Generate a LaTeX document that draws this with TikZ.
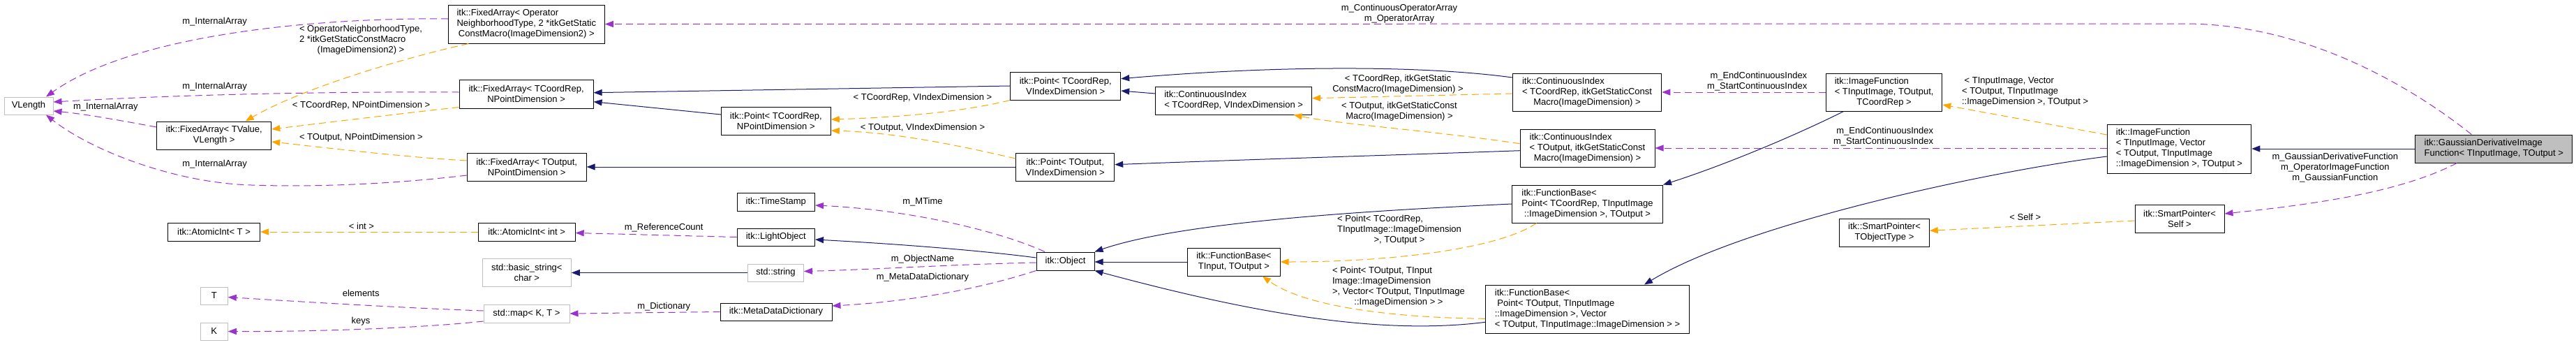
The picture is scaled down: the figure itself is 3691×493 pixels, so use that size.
\documentclass[tikz,border=0pt]{standalone}
\usepackage{fontspec}
\setmainfont{Liberation Sans}
\usetikzlibrary{arrows.meta}
\definecolor{usecol}{HTML}{9A32CD}
\definecolor{inhcol}{HTML}{191970}
\definecolor{tplcol}{HTML}{FFA500}
\definecolor{graybd}{HTML}{BFBFBF}
\newcommand{\cl}[1]{\multicolumn{1}{@{}c@{}}{#1}}
\newcommand{\lt}[1]{\begin{tabular}{@{}l@{}}#1\end{tabular}}
\begin{document}
\begin{tikzpicture}[x=1pt,y=-1pt,font=\fontsize{13}{15}\selectfont,
  cls/.style={draw=black,line width=1pt,inner sep=0pt,align=center},
  ucls/.style={cls,draw=graybd},
  lbl/.style={inner sep=0pt,align=center},
  tipA/.style={-{Triangle[length=12pt,width=9pt]}},
  usearrow/.style={draw=usecol,line width=1pt,dash pattern=on 10pt off 6pt,tipA},
  inharrow/.style={draw=inhcol,line width=1pt,tipA},
  tplarrow/.style={draw=tplcol,line width=1pt,dash pattern=on 10pt off 6pt,tipA}]
\useasboundingbox (0,0) rectangle (3691,493);

% ---- nodes ----
\node[ucls,minimum width=70pt,minimum height=25pt] (VL) at (41,151.5) {VLength};
\node[cls,minimum width=164pt,minimum height=40pt] (FATV) at (306.7,194) {itk::FixedArray< TValue,\\VLength >};
\node[cls,minimum width=132pt,minimum height=26pt] (AIT) at (306.5,332) {itk::AtomicInt< T >};
\node[ucls,minimum width=39pt,minimum height=25pt] (TT) at (306.8,423.5) {T};
\node[ucls,minimum width=39pt,minimum height=25pt] (KK) at (306.8,474.5) {K};

\node[cls,minimum width=224pt,minimum height=55pt] (FAOP) at (754.3,34.5) {\lt{itk::FixedArray< Operator\\NeighborhoodType, 2 *itkGetStatic\\\cl{ConstMacro(ImageDimension2) >}}};
\node[cls,minimum width=192pt,minimum height=41pt] (FATC) at (754.1,134.5) {itk::FixedArray< TCoordRep,\\NPointDimension >};
\node[cls,minimum width=171pt,minimum height=40pt] (FATO) at (754.7,239) {itk::FixedArray< TOutput,\\NPointDimension >};
\node[cls,minimum width=139pt,minimum height=26pt] (AIINT) at (754.7,332) {itk::AtomicInt< int >};
\node[ucls,minimum width=127pt,minimum height=40pt] (BSTR) at (754.8,390) {std::basic\_string<\\char >};
\node[ucls,minimum width=123pt,minimum height=26pt] (MAP) at (754.5,449) {std::map< K, T >};

\node[cls,minimum width=157pt,minimum height=40pt] (PCN) at (1111.8,173) {itk::Point< TCoordRep,\\NPointDimension >};
\node[cls,minimum width=111.5pt,minimum height=26pt] (TS) at (1111.8,289) {itk::TimeStamp};
\node[cls,minimum width=111.5pt,minimum height=25pt] (LO) at (1111.8,339.5) {itk::LightObject};
\node[ucls,minimum width=80pt,minimum height=25pt] (STR) at (1111.5,390.5) {std::string};
\node[cls,minimum width=160pt,minimum height=25pt] (MDD) at (1112,446.5) {itk::MetaDataDictionary};

\node[cls,minimum width=158pt,minimum height=40pt] (PCV) at (1526.7,123) {itk::Point< TCoordRep,\\VIndexDimension >};
\node[cls,minimum width=141pt,minimum height=40pt] (POV) at (1526.2,239) {itk::Point< TOutput,\\VIndexDimension >};
\node[cls,minimum width=83pt,minimum height=26pt] (OBJ) at (1526.5,374) {itk::Object};

\node[cls,minimum width=224pt,minimum height=40pt,align=left] (CIV) at (1767.6,144) {itk::ContinuousIndex\\< TCoordRep, VIndexDimension >};
\node[cls,minimum width=132.5pt,minimum height=40pt] (FB) at (1767.9,375) {itk::FunctionBase<\\TInput, TOutput >};

\node[cls,minimum width=213.5pt,minimum height=54pt] (CI1) at (2274,132) {\lt{itk::ContinuousIndex\\< TCoordRep, itkGetStaticConst\\\cl{Macro(ImageDimension) >}}};
\node[cls,minimum width=193pt,minimum height=54pt] (CI2) at (2274.5,212) {\lt{itk::ContinuousIndex\\< TOutput, itkGetStaticConst\\\cl{Macro(ImageDimension) >}}};
\node[cls,minimum width=216pt,minimum height=54pt] (FB1) at (2274.5,292) {\lt{itk::FunctionBase<\\\cl{Point< TCoordRep, TInputImage}\\\cl{::ImageDimension >, TOutput >}}};
\node[cls,minimum width=292pt,minimum height=69pt] (FB2) at (2274.5,442.5) {\lt{itk::FunctionBase<\\\ Point< TOutput, TInputImage\\::ImageDimension >, Vector\\< TOutput, TInputImage::ImageDimension > >}};

\node[cls,minimum width=166.4pt,minimum height=54pt] (IF1) at (2699.6,132) {\lt{itk::ImageFunction\\< TInputImage, TOutput,\\\cl{TCoordRep >}}};
\node[cls,minimum width=128.5pt,minimum height=40pt] (SPT) at (2700,333) {itk::SmartPointer<\\TObjectType >};

\node[cls,minimum width=206.5pt,minimum height=70pt,align=left] (IF2) at (3122.5,213) {itk::ImageFunction\\< TInputImage, Vector\\< TOutput, TInputImage\\::ImageDimension >, TOutput >};
\node[cls,minimum width=128pt,minimum height=40pt] (SPS) at (3123,313) {itk::SmartPointer<\\Self >};

\node[cls,fill=graybd,minimum width=224.8pt,minimum height=40pt,align=left] (GD) at (3573.3,213) {itk::GaussianDerivativeImage\\Function< TInputImage, TOutput >};

% ---- usage edges (purple dashed) ----
\draw[usearrow] ([yshift=7.5pt]FAOP.west) .. controls (450,25) and (190,50) .. ([xshift=25pt]VL.north);
\draw[usearrow] ([yshift=2.5pt]FATC.west) .. controls (450,131) and (250,136) .. ([yshift=5.5pt]VL.east);
\draw[usearrow] ([yshift=12pt]FATV.west) .. controls (170,172) and (120,163) .. ([yshift=-7.5pt]VL.east);
\draw[usearrow] ([yshift=-12pt]FATO.west) .. controls (560,264) and (450,268) .. (360,265) .. controls (250,262) and (130,215) .. ([xshift=25pt]VL.south);
\draw[usearrow] ([xshift=-32pt]GD.north) .. controls (3450,120) and (3300,34) .. (3130,34) -- (FAOP.east);
\draw[usearrow] (IF1.west) -- (CI1.east);
\draw[usearrow] (IF2.west |- CI2.east) -- (CI2.east);
\draw[usearrow] ([xshift=-53pt]GD.south) .. controls (3440,275) and (3320,292) .. ([yshift=7pt]SPS.east);
\draw[usearrow] ([xshift=-29.5pt]OBJ.north) .. controls (1430,330) and (1300,300) .. ([yshift=-5pt]TS.east);
\draw[usearrow] (LO.west) -- ([yshift=-1.5pt]AIINT.east);
\draw[usearrow] ([yshift=-2pt]OBJ.west) .. controls (1380,378) and (1250,386) .. ([yshift=2pt]STR.east);
\draw[usearrow] (OBJ.south west) .. controls (1400,415) and (1300,432) .. ([yshift=8.5pt]MDD.east);
\draw[usearrow] (MDD.west) -- (MAP.east);
\draw[usearrow] ([yshift=4pt]MAP.west) .. controls (580,441) and (430,432) .. ([yshift=-2pt]TT.east);
\draw[usearrow] ([yshift=-11pt]MAP.west) .. controls (600,470) and (450,475) .. (KK.east);

% ---- template edges (orange dashed) ----
\draw[tplarrow] ([xshift=-83pt]FAOP.south) .. controls (570,85) and (430,128) .. ([xshift=45pt]FATV.north);
\draw[tplarrow] ([yshift=2pt]FATC.south west) .. controls (580,162) and (480,174) .. ([yshift=9pt]FATV.east);
\draw[tplarrow] ([yshift=9pt]FATO.west) .. controls (580,225) and (480,213) .. ([yshift=-9pt]FATV.east);
\draw[tplarrow] (AIINT.west) -- (AIT.east);
\draw[tplarrow] (PCV.south west) .. controls (1380,160) and (1290,168) .. ([yshift=2pt]PCN.east);
\draw[tplarrow] ([yshift=12pt]POV.west) .. controls (1380,210) and (1290,190) .. ([yshift=-14pt]PCN.east);
\draw[tplarrow] ([yshift=-2pt]CI1.west) -- ([yshift=3.3pt]CIV.east);
\draw[tplarrow] ([yshift=6.3pt]CI2.west) .. controls (2060,188) and (1920,178) .. ([xshift=86pt]CIV.south);
\draw[tplarrow] ([xshift=-73pt]FB1.south) .. controls (2150,355) and (2000,375) .. (FB.east);
\draw[tplarrow] ([yshift=-13.8pt]FB2.west) .. controls (2000,455) and (1870,440) .. ([xshift=41pt]FB.south);
\draw[tplarrow] ([yshift=20pt]IF2.west) -- ([yshift=-18pt]IF1.east);
\draw[tplarrow] ([yshift=-3pt]SPS.west) -- ([yshift=2.7pt]SPT.east);

% ---- inheritance edges (navy solid) ----
\draw[inharrow] ([yshift=9pt]PCN.west) -- ([yshift=-11.2pt]FATC.east);
\draw[inharrow] (PCV.west) -- ([yshift=1.8pt]FATC.east);
\draw[inharrow] (POV.west) -- (FATO.east);
\draw[inharrow] ([yshift=10pt]CIV.west) -- ([yshift=-7pt]PCV.east);
\draw[inharrow] ([yshift=21pt]CI1.west) .. controls (2050,95) and (1850,92) .. ([yshift=10.3pt]PCV.east);
\draw[inharrow] ([yshift=-3.7pt]CI2.west) .. controls (2000,222) and (1800,228) .. ([yshift=3.3pt]POV.east);
\draw[inharrow] (FB.west) -- (FB.west -| OBJ.east);
\draw[inharrow] (FB1.west) .. controls (2000,300) and (1700,315) .. (OBJ.north east);
\draw[inharrow] ([yshift=-18.8pt]FB2.west) .. controls (1980,480) and (1800,450) .. (OBJ.south east);
\draw[inharrow] ([yshift=5pt]OBJ.west) .. controls (1400,358) and (1280,349) .. ([yshift=-3.5pt]LO.east);
\draw[inharrow] (STR.west) -- (STR.west -| BSTR.east);
\draw[inharrow] ([xshift=-58pt]IF1.south) .. controls (2560,200) and (2460,240) .. (FB1.north east);
\draw[inharrow] ([yshift=-11pt]IF2.west) .. controls (2850,245) and (2500,320) .. ([xshift=81.5pt]FB2.north);
\draw[inharrow] (GD.west) -- (IF2.east);

% ---- edge labels ----
\node[lbl] (LB1) at (307.6,31) {m\_InternalArray};
\node[lbl] (LB2) at (517,57.5) {\lt{< OperatorNeighborhoodType,\\2 *itkGetStaticConstMacro\\\cl{(ImageDimension2) >}}};
\node[lbl] (LB3) at (307.6,124) {m\_InternalArray};
\node[lbl] (LB4) at (151.4,153) {m\_InternalArray};
\node[lbl] (LB5) at (517.6,151) {< TCoordRep, NPointDimension >};
\node[lbl] (LB6) at (517.4,197) {< TOutput, NPointDimension >};
\node[lbl] (LB7) at (307.6,235) {m\_InternalArray};
\node[lbl] (LB8) at (518,324) {< int >};
\node[lbl] (LB9) at (517.2,420) {elements};
\node[lbl] (LB10) at (517,460) {keys};
\node[lbl] (LB11) at (951.2,326) {m\_ReferenceCount};
\node[lbl] (LB12) at (951.2,439) {m\_Dictionary};
\node[lbl] (LB13) at (1322,140) {< TCoordRep, VIndexDimension >};
\node[lbl] (LB14) at (1322,183) {< TOutput, VIndexDimension >};
\node[lbl] (LB15) at (1322,289) {m\_MTime};
\node[lbl] (LB16) at (1322,371) {m\_ObjectName};
\node[lbl] (LB17) at (1322,397) {m\_MetaDataDictionary};
\node[lbl] (LB18) at (2005,19.5) {m\_ContinuousOperatorArray\\m\_OperatorArray};
\node[lbl] (LB19) at (2003,120.5) {< TCoordRep, itkGetStatic\\ConstMacro(ImageDimension) >};
\node[lbl] (LB20) at (2005,159.5) {< TOutput, itkGetStaticConst\\Macro(ImageDimension) >};
\node[lbl] (LB21) at (2005,329.5) {\lt{< Point< TCoordRep,\\TInputImage::ImageDimension\\\cl{>, TOutput >}}};
\node[lbl] (LB22) at (2004,411) {\lt{< Point< TOutput, TInput\\Image::ImageDimension\\>, Vector< TOutput, TInputImage\\\cl{::ImageDimension > >}}};
\node[lbl,align=right] (LB23) at (2517.7,116.5) {m\_EndContinuousIndex\\m\_StartContinuousIndex};
\node[lbl,align=left] (LB24) at (2901.6,131) {\ < TInputImage, Vector\\< TOutput, TInputImage\\::ImageDimension >, TOutput >};
\node[lbl,align=right] (LB25) at (2698.6,196) {m\_EndContinuousIndex\\m\_StartContinuousIndex};
\node[lbl] (LB26) at (2901.8,311) {< Self >};
\node[lbl] (LB27) at (3345.8,240) {m\_GaussianDerivativeFunction\\m\_OperatorImageFunction\\m\_GaussianFunction};
\end{tikzpicture}
\end{document}
